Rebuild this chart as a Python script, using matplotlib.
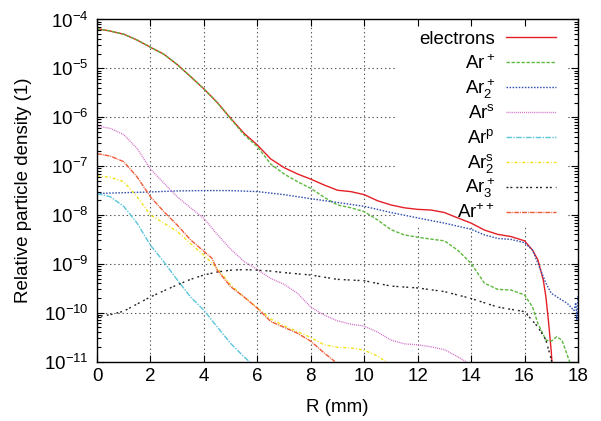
import numpy as np
import matplotlib
matplotlib.use("Agg")
import matplotlib.pyplot as plt
from matplotlib.patches import Rectangle
from matplotlib.lines import Line2D

plt.rcParams['font.family'] = ['Liberation Sans', 'DejaVu Sans']
plt.rcParams['mathtext.fontset'] = 'custom'
plt.rcParams['mathtext.rm'] = 'Liberation Sans'
plt.rcParams['mathtext.it'] = 'Liberation Sans:italic'
plt.rcParams['mathtext.bf'] = 'Liberation Sans:bold'
plt.rcParams['lines.scale_dashes'] = False

# radius (mm) and relative densities
r_e = [0, 0.5, 1, 1.5, 2, 2.5, 3, 3.5, 4, 4.5, 5, 5.5, 6, 6.5, 7, 7.5, 8, 8.5, 9, 9.5,
       10, 10.5, 11, 11.5, 12, 12.5, 13, 13.5, 14, 14.5, 15, 15.5, 16, 16.3, 16.5, 16.7,
       16.8, 16.9, 17.0, 17.05]
n_e = [6.5e-5, 5.8e-5, 5.0e-5, 3.8e-5, 2.7e-5, 1.95e-5, 1.2e-5, 6.8e-6, 3.8e-6, 2.0e-6,
       9.5e-7, 4.7e-7, 2.7e-7, 1.4e-7, 9.3e-8, 6.9e-8, 5.4e-8, 4.1e-8, 3.2e-8, 3.0e-8,
       2.6e-8, 1.95e-8, 1.6e-8, 1.4e-8, 1.3e-8, 1.26e-8, 1.12e-8, 8.7e-9, 6.8e-9, 4.9e-9,
       4.0e-9, 3.6e-9, 2.95e-9, 1.9e-9, 1.2e-9, 4.7e-10, 2.1e-10, 6.3e-11, 1.6e-11, 6e-12]

r_ion = [0, 0.5, 1, 1.5, 2, 2.5, 3, 3.5, 4, 4.5, 5, 5.5, 6, 6.5, 7, 7.5, 8, 8.5, 9, 9.5,
         10, 10.5, 11, 11.5, 12, 12.5, 13, 13.5, 14, 14.5, 15, 15.5, 16, 16.3, 16.5, 16.8,
         17.0, 17.2, 17.4, 17.6, 17.75]
n_ion = [6.5e-5, 5.8e-5, 5.0e-5, 3.8e-5, 2.7e-5, 1.95e-5, 1.2e-5, 6.8e-6, 3.8e-6, 2.0e-6,
         9.3e-7, 4.4e-7, 2.5e-7, 1.1e-7, 6.9e-8, 4.8e-8, 3.5e-8, 2.3e-8, 1.6e-8, 1.4e-8,
         1.17e-8, 7.9e-9, 5.0e-9, 3.9e-9, 3.5e-9, 3.2e-9, 2.95e-9, 1.9e-9, 1.02e-9, 4.0e-10,
         3.0e-10, 2.9e-10, 2.3e-10, 1.3e-10, 6.0e-11, 2.75e-11, 2.6e-11, 3.2e-11, 2.75e-11,
         1.35e-11, 8e-12]

r_dim = [0, 1, 2, 3, 4, 5, 6, 6.5, 7, 8, 9, 10, 11, 12, 13, 14, 14.5, 15, 15.5, 16, 16.3,
         16.5, 16.8, 17, 17.3, 17.6, 17.85, 17.92, 17.96, 18]
n_dim = [2.75e-8, 2.85e-8, 2.95e-8, 3.1e-8, 3.15e-8, 3.15e-8, 3.0e-8, 2.8e-8, 2.6e-8,
         2.15e-8, 1.8e-8, 1.5e-8, 1.12e-8, 8.7e-9, 6.8e-9, 5.1e-9, 3.9e-9, 3.3e-9, 3.15e-9,
         2.7e-9, 1.9e-9, 1.02e-9, 4.0e-10, 2.5e-10, 1.95e-10, 1.55e-10, 1.1e-10, 1.6e-10,
         7e-11, 2.2e-10]

r_s = [0, 0.5, 1, 1.5, 2, 2.5, 3, 3.5, 4, 4.5, 5, 5.5, 6, 6.5, 7, 7.5, 8, 8.5, 9, 9.5, 10,
       10.5, 11, 11.5, 12, 12.5, 13, 13.5, 13.8]
n_s = [6.6e-7, 5.9e-7, 4.4e-7, 2.3e-7, 8.7e-8, 4.5e-8, 2.35e-8, 1.4e-8, 8.5e-9, 4.0e-9,
       2.0e-9, 1.12e-9, 7.6e-10, 5.0e-10, 3.8e-10, 2.5e-10, 1.3e-10, 8.9e-11, 6.8e-11,
       5.8e-11, 5.3e-11, 4.0e-11, 2.75e-11, 2.3e-11, 2.2e-11, 2.0e-11, 1.75e-11, 1.25e-11,
       1.0e-11]

r_p = [0, 0.5, 1, 1.5, 2, 2.5, 3, 3.5, 4, 4.5, 5, 5.5, 5.8]
n_p = [2.75e-8, 2.35e-8, 1.5e-8, 6.8e-9, 2.4e-9, 1.1e-9, 4.7e-10, 2.1e-10, 1.12e-10,
       5.1e-11, 2.35e-11, 1.25e-11, 8.9e-12]

r_dim_s = [0, 0.5, 1, 1.5, 2, 2.5, 3, 3.5, 4, 4.5, 5, 5.5, 6, 6.5, 7, 7.5, 8, 8.5, 9, 9.5,
           10, 10.5, 10.8]
n_dim_s = [6.3e-8, 5.9e-8, 4.8e-8, 2.35e-8, 1.0e-8, 6.8e-9, 4.6e-9, 2.6e-9, 1.5e-9,
           8.1e-10, 3.7e-10, 2.1e-10, 1.26e-10, 7.4e-11, 5.4e-11, 4.1e-11, 3.1e-11, 2.2e-11,
           1.95e-11, 1.9e-11, 1.7e-11, 1.3e-11, 1.0e-11]

r_tri = [0, 0.5, 1, 1.5, 2, 2.5, 3, 3.5, 4, 4.5, 5, 5.5, 6, 6.5, 7, 8, 9, 10, 11, 12, 13,
         14, 15, 16, 16.5, 16.8, 17, 17.1]
n_tri = [8.3e-11, 9.1e-11, 1.07e-10, 1.5e-10, 2.1e-10, 2.8e-10, 3.7e-10, 4.8e-10, 5.9e-10,
         6.8e-10, 7.4e-10, 7.6e-10, 7.4e-10, 7.1e-10, 6.6e-10, 5.9e-10, 4.8e-10, 4.5e-10,
         3.5e-10, 3.2e-10, 2.7e-10, 1.95e-10, 1.3e-10, 1.05e-10, 5.1e-11, 2.75e-11,
         1.1e-11, 6e-12]

r_pp = [0, 0.5, 1, 1.5, 2, 2.5, 3, 3.5, 4, 4.3, 4.5, 5, 5.5, 6, 6.5, 7, 7.5, 8, 8.5, 8.9]
n_pp = [1.8e-7, 1.6e-7, 1.23e-7, 6.0e-8, 2.35e-8, 1.17e-8, 6.2e-9, 3.1e-9, 1.8e-9, 1.3e-9,
        7.4e-10, 3.4e-10, 2.1e-10, 1.23e-10, 6.6e-11, 5.0e-11, 3.8e-11, 2.6e-11, 1.5e-11,
        1.0e-11]

labels = ['electrons', r'Ar$^+$', r'Ar$_2^+$', r'Ar$^\mathrm{s}$', r'Ar$^\mathrm{p}$',
          r'Ar$_2^\mathrm{s}$', r'Ar$_3^+$', r'Ar$^{++}$']
series = [(r_e, n_e), (r_ion, n_ion), (r_dim, n_dim), (r_s, n_s), (r_p, n_p),
          (r_dim_s, n_dim_s), (r_tri, n_tri), (r_pp, n_pp)]
colors = ['#e41f26', '#5cb83c', '#3050b0', '#d070c8', '#5ac6da', '#f2e21a', '#222222', '#f05a38']
styles = ['-', (0, (2.4, 1.2)), (0, (1.1, 1.1)), (0, (0.7, 0.7)), (0, (4, 1, 1, 1)),
          (0, (2.2, 1.4, 0.7, 1.4)), (0, (1.4, 1.4, 1.4, 2.9)), (0, (3.5, 0.7, 0.7, 0.7))]

fig = plt.figure(figsize=(6.01, 4.21), dpi=100)
ax = fig.add_axes([0.1614, 0.1413, 0.8003, 0.8124])
ax.set_yscale('log')
ax.set_xlim(0, 18)
ax.set_ylim(1e-11, 1e-4)

# gnuplot-like grid, hidden behind the key
for gx in range(2, 18, 2):
    ax.axvline(gx, color='0.35', lw=0.8, ls=(0, (1, 2)), zorder=0.5)
for gy in range(-10, -4):
    ax.axhline(10.0 ** gy, color='0.35', lw=0.8, ls=(0, (1, 2)), zorder=0.5)
ax.add_patch(Rectangle((0.62, 0.40), 0.357, 0.60, transform=ax.transAxes,
                       facecolor='white', edgecolor='none', zorder=0.8))

for (r, n), c, ls in zip(series, colors, styles):
    ax.plot(r, n, color=c, ls=ls, lw=1.0, zorder=2)

ax.set_xticks(range(0, 19, 2))
ax.tick_params(which='both', direction='in', top=True, right=True, labelsize=13.5)
ax.tick_params(which='major', length=5, width=0.8)
ax.tick_params(which='minor', length=3, width=0.8)
ax.tick_params(axis='y', pad=6)
ax.tick_params(axis='x', pad=5)
ax.minorticks_off()
ax.yaxis.set_minor_locator(matplotlib.ticker.LogLocator(base=10, subs=np.arange(2, 10)))
ax.yaxis.set_minor_formatter(matplotlib.ticker.NullFormatter())
for s in ax.spines.values():
    s.set_linewidth(1.0)

ax.set_xlabel('R (mm)', fontsize=13.5)
ax.set_ylabel('Relative particle density (1)', fontsize=13.5)
ax.xaxis.set_label_coords(0.5, -0.11)
ax.yaxis.set_label_coords(-0.135, 0.5)

# key: text right-aligned, sample to its right
for i, (lab, c, ls) in enumerate(zip(labels, colors, styles)):
    yl = 37.3 + 24.9 * i
    fy = 1 - yl / 421
    fig.add_artist(Line2D([506 / 601, 556 / 601], [fy, fy], color=c, ls=ls, lw=1.0,
                          transform=fig.transFigure))
    fig.text(495 / 601, 1 - (yl + 6.5) / 421, lab, ha='right', va='baseline', fontsize=13.5)

fig.savefig('out.png', dpi=100)
